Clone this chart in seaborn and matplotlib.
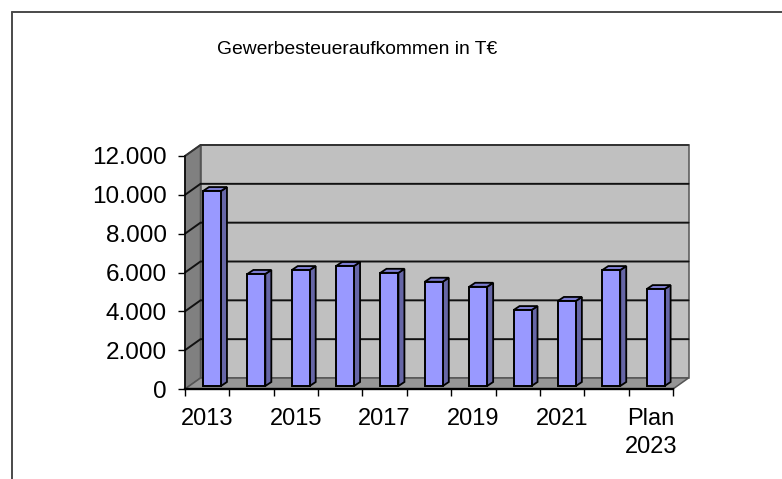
import matplotlib
matplotlib.use("Agg")
import matplotlib.pyplot as plt
from matplotlib.lines import Line2D
from matplotlib.patches import Polygon
import pandas as pd
import seaborn as sns

years = ["2013", "2014", "2015", "2016", "2017", "2018", "2019", "2020", "2021", "2022", "Plan\n2023"]
revenue = [10040, 5770, 5970, 6180, 5830, 5370, 5110, 3910, 4380, 5970, 4990]
shown_labels = ["2013", "", "2015", "", "2017", "", "2019", "", "2021", "", "Plan\n2023"]
y_ticks = [0, 2000, 4000, 6000, 8000, 10000, 12000]
y_labels = ["0", "2.000", "4.000", "6.000", "8.000", "10.000", "12.000"]
title = "Gewerbesteueraufkommen in T€"

sns.set_theme(style="white")
plt.rcParams["font.family"] = ["Liberation Sans", "DejaVu Sans"]

W, H = 782, 479
fig = plt.figure(figsize=(W / 100, H / 100), dpi=100, facecolor="white")
ax = fig.add_axes([185 / W, 1 - 389 / H, 488 / W, 233 / H])
ax.patch.set_alpha(0)

df = pd.DataFrame({"year": years, "value": revenue})
sns.barplot(data=df, x="year", y="value", order=years, color="#9999FF", saturation=1,
            width=0.405, edgecolor="#000000", linewidth=1.4, ax=ax, zorder=5)
bars = list(ax.containers[0])

ax.set_xlim(-0.5, 10.5)
ax.set_ylim(0, 12000)
ax.set_xlabel("")
ax.set_ylabel("")

# one pixel expressed in data units
px_x = 11 / 488
px_y = 12000 / 233
wall_dx, wall_dy = 15.5 * px_x, 11 * px_y
bar_dx, bar_dy = 6 * px_x, 4 * px_y
front_dx, front_dy = 4.8 * px_x, 3 * px_y

x0, x1 = -0.5, 10.5
top = 12000
edge = "#333333"
walls = [
    ([(x0 + wall_dx, wall_dy), (x1 + wall_dx, wall_dy), (x1 + wall_dx, top + wall_dy), (x0 + wall_dx, top + wall_dy)], "#C0C0C0"),
    ([(x0, 0), (x0 + wall_dx, wall_dy), (x0 + wall_dx, top + wall_dy), (x0, top)], "#808080"),
    ([(x0, 0), (x1, 0), (x1 + wall_dx, wall_dy), (x0 + wall_dx, wall_dy)], "#969696"),
]
for pts, col in walls:
    ax.add_patch(Polygon(pts, closed=True, facecolor=col, edgecolor="#555555", linewidth=1.1,
                         clip_on=False, zorder=1))

for v in y_ticks[1:]:
    line_col = "#111111" if v < top else edge
    ax.plot([x0, x0 + wall_dx, x1 + wall_dx], [v, v + wall_dy, v + wall_dy], color=line_col,
            linewidth=1.4, clip_on=False, zorder=2, solid_joinstyle="miter")

for p in bars:
    p.set_x(p.get_x() + front_dx)
    p.set_y(front_dy)
    p.set_clip_on(False)
    xl, xr = p.get_x(), p.get_x() + p.get_width()
    yb, yt = p.get_y(), p.get_y() + p.get_height()
    side = [(xr, yb), (xr + bar_dx, yb + bar_dy), (xr + bar_dx, yt + bar_dy), (xr, yt)]
    lid = [(xl, yt), (xr, yt), (xr + bar_dx, yt + bar_dy), (xl + bar_dx, yt + bar_dy)]
    ax.add_patch(Polygon(side, closed=True, facecolor="#6666A6", edgecolor="#000000",
                         linewidth=1.3, clip_on=False, zorder=4))
    ax.add_patch(Polygon(lid, closed=True, facecolor="#7C7CD0", edgecolor="#000000",
                         linewidth=1.3, clip_on=False, zorder=4))

sns.despine(ax=ax, top=True, right=True)
for s in ("left", "bottom"):
    ax.spines[s].set_color("#000000")
    ax.spines[s].set_zorder(6)
ax.spines["left"].set_linewidth(1.1)
ax.spines["bottom"].set_linewidth(1.7)

ax.set_yticks(y_ticks)
ax.set_yticklabels(y_labels, fontsize=17.5, color="#000000")
ax.tick_params(axis="y", which="major", left=True, length=5, width=1, color="#000000", pad=8)

ax.set_xticks(range(len(years)))
ax.set_xticklabels(shown_labels, fontsize=17, color="#000000", linespacing=1.3)
ax.set_xticks([x0 + i for i in range(len(years) + 1)], minor=True)
ax.tick_params(axis="x", which="major", bottom=False, length=0, pad=14)
ax.tick_params(axis="x", which="minor", bottom=True, length=5, width=1, color="#000000")

frame = "#4A4A4A"
fig.add_artist(Line2D([11.5 / W, 11.5 / W], [0, 1 - 11.5 / H], color=frame, linewidth=1.4, transform=fig.transFigure))
fig.add_artist(Line2D([11.5 / W, 1], [1 - 11.5 / H, 1 - 11.5 / H], color=frame, linewidth=1.4, transform=fig.transFigure))

fig.text(357 / W, 1 - 49 / H, title, fontsize=13.9, color="#000000", ha="center", va="center")

fig.savefig("out.png", dpi=100)
